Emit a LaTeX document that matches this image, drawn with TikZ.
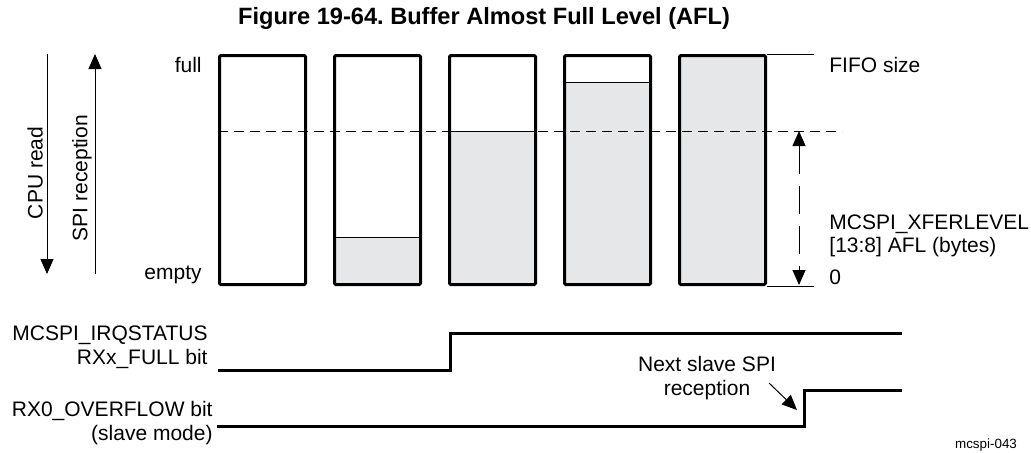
\documentclass[tikz,border=0pt]{standalone}
\usepackage{fontspec}
\setmainfont{Liberation Sans}
\usetikzlibrary{arrows.meta,positioning,calc}
\definecolor{fifofill}{RGB}{230,231,232}
\frenchspacing

\begin{document}
\begin{tikzpicture}[
  x=0.5pt,y=-0.5pt,
  >={Triangle[length=7.5pt,width=6.5pt]},
  lbl/.style={font=\fontsize{10.5}{11.8}\selectfont,inner sep=0pt},
  thinline/.style={line width=0.5pt},
  signal/.style={line width=1.5pt},
  fifobox/.style={draw,line width=1.5pt,rounded corners=0.6pt,minimum width=43pt,minimum height=114.5pt,inner sep=0pt,
    path picture={
      \fill[fifofill] (path picture bounding box.south west) rectangle
        ($(path picture bounding box.south east)!#1!(path picture bounding box.north east)$);
      \draw[thinline] ($(path picture bounding box.south west)!#1!(path picture bounding box.north west)$) --
        ($(path picture bounding box.south east)!#1!(path picture bounding box.north east)$);
    }},
  fifobox/.default=0
]
  \useasboundingbox (0,0) rectangle (1031,452);

  \node[font=\fontsize{11.8}{14}\selectfont\bfseries] (title) at (484,18) {Figure 19-64. Buffer Almost Full Level (AFL)};

  % FIFO levels
  \foreach \i/\lev in {1/0,2/0.207,3/0.67,4/0.88,5/1.02}
    \node[fifobox=\lev] (b\i) at ({262.5+115*(\i-1)},170) {};

  \node[lbl,anchor=east] (full)  at (202,65)  {full};
  \node[lbl,anchor=east] (empty) at (202,275) {empty};

  % threshold
  \coordinate (aflend) at (842,131);
  \draw[thinline,dash pattern=on 5pt off 3pt] (b1.west |- aflend) -- (aflend);
  \draw[thinline] (b5.north east) -- ++(47,0) coordinate (fifotop);
  \draw[thinline] (b5.south east) -- ++(47,0) coordinate (fifobot);
  \node[lbl,anchor=west] (fifo) at (829,65) {FIFO size};
  \node[lbl,anchor=west] (zero) at (829,277) {0};
  \node[lbl,anchor=west,align=left] (xfer) at (829,236) {MCSPI\_XFERLEVEL\\{[13:8]} AFL (bytes)};
  \coordinate (afltop) at (799,131);
  \coordinate (aflbot) at (799,285);
  \draw[thinline,<->,dash pattern=on 14pt off 6pt] (afltop) -- (aflbot);

  % read / reception direction
  \coordinate (cputop) at (47,54);
  \coordinate (cpubot) at (47,274);
  \coordinate (spitop) at (95,54);
  \coordinate (spibot) at (95,274);
  \draw[thinline,->] (cputop) -- (cpubot);
  \draw[thinline,->] (spibot) -- (spitop);
  \node[lbl,rotate=90] (cpu) at (35,173) {CPU read};
  \node[lbl,rotate=90] (spi) at (82,178) {SPI reception};

  % status bits
  \node[lbl,anchor=east,align=right] (irq) at (208,347) {MCSPI\_IRQSTATUS\\RXx\_FULL bit};
  \node[lbl,anchor=east,align=right] (ovf) at (213,423) {RX0\_OVERFLOW bit\\(slave mode)};
  \coordinate (irqlow) at (218,370);
  \coordinate (ovflow) at (217,426);
  \draw[signal] (irqlow) -- (450,370) -- (450,333) -- (902,333);
  \draw[signal] (ovflow) -- (804,426) -- (804,390) -- (902,390);

  \node[lbl,align=center] (next) at (707,378) {Next slave SPI\\reception};
  \coordinate (nexttip) at (797,410);
  \draw[thinline,->] (769,383) -- (nexttip);

  \node[font=\fontsize{6.7}{8}\selectfont] (figid) at (986,445) {mcspi-043};
\end{tikzpicture}
\end{document}
